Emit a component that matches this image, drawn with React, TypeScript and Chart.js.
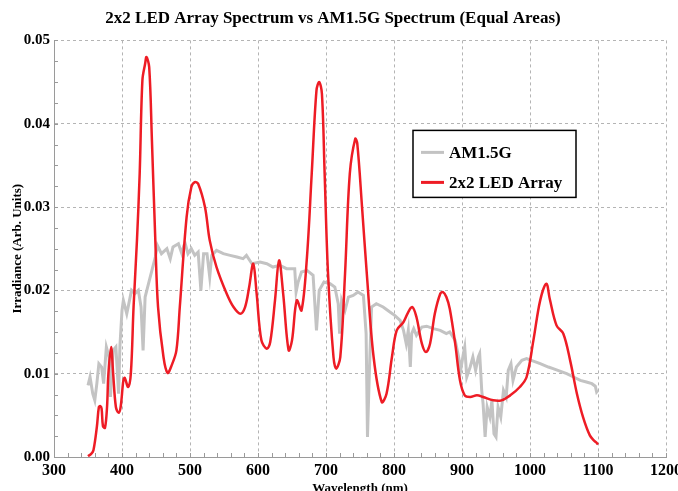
import { useEffect, useRef } from 'react';
import { Chart, registerables } from 'chart.js';

Chart.register(...registerables);

const ledWavelengths = [
  350, 355, 358, 363, 366, 368, 370, 372, 375, 378, 380, 384, 387, 391, 395, 398, 402, 404, 409, 413,
  417, 422, 426, 430, 434, 436, 440, 444, 449, 453, 461, 467, 473, 480, 485, 495, 502, 507, 512, 522,
  529, 539, 554, 564, 574, 581, 587, 593, 598, 605, 613, 618, 625, 631, 637, 645, 650, 657, 664, 672,
  679, 686, 690, 694, 698, 703, 711, 715, 721, 728, 735, 743, 746, 753, 760, 770, 782, 789, 797, 804,
  814, 821, 827, 833, 841, 847, 853, 860, 868, 872, 877, 882, 890, 897, 904, 912, 922, 931, 946, 958,
  971, 985, 995, 1005, 1015, 1024, 1029, 1039, 1049, 1059, 1069, 1078, 1088, 1095, 1098, 1100,
];
const ledValues = [
  0.0001, 0.0004, 0.0008, 0.0036, 0.006, 0.0061, 0.0058, 0.0037, 0.0035, 0.006, 0.01, 0.0132, 0.01, 0.006, 0.0053, 0.006, 0.0092, 0.0095, 0.0084, 0.01,
  0.018, 0.026, 0.034, 0.0452, 0.0472, 0.048, 0.0468, 0.038, 0.026, 0.018, 0.012, 0.0101, 0.011, 0.0128, 0.018, 0.0288, 0.0324, 0.033, 0.0328, 0.03,
  0.026, 0.0228, 0.0196, 0.018, 0.0172, 0.018, 0.0204, 0.0232, 0.0196, 0.014, 0.013, 0.0138, 0.0188, 0.0236, 0.0196, 0.0128, 0.014, 0.0188, 0.0176, 0.024,
  0.034, 0.044, 0.045, 0.0436, 0.034, 0.022, 0.012, 0.0106, 0.012, 0.022, 0.034, 0.0382, 0.0376, 0.03, 0.022, 0.012, 0.0066, 0.0076, 0.012, 0.0152,
  0.0162, 0.0174, 0.018, 0.0168, 0.0136, 0.0126, 0.0136, 0.0172, 0.0196, 0.0198, 0.0192, 0.0178, 0.0136, 0.0092, 0.0074, 0.0072, 0.0074, 0.0072, 0.0068, 0.0068,
  0.0074, 0.0084, 0.0096, 0.014, 0.0188, 0.0208, 0.019, 0.0158, 0.0148, 0.0116, 0.0076, 0.0048, 0.0026, 0.0019, 0.0017, 0.0015,
];

const amWavelengths = [
  350, 353, 357, 360, 363, 366, 370, 373, 377, 381, 383, 387, 391, 395, 397, 400, 402, 407, 411, 414,
  419, 424, 428, 431, 434, 439, 444, 449, 452, 458, 466, 471, 475, 483, 488, 491, 493, 497, 502, 507,
  512, 516, 520, 525, 529, 532, 539, 549, 559, 569, 578, 583, 591, 603, 613, 622, 632, 642, 654, 656,
  659, 664, 672, 681, 686, 690, 697, 706, 713, 718, 720, 723, 728, 733, 740, 747, 755, 759, 761, 764,
  767, 774, 784, 794, 801, 809, 814, 818, 821, 824, 826, 829, 833, 841, 848, 858, 868, 877, 882, 890,
  895, 898, 902, 904, 907, 912, 916, 920, 924, 926, 929, 931, 934, 937, 941, 944, 947, 950, 953, 957,
  961, 965, 968, 972, 975, 980, 988, 995, 1005, 1015, 1027, 1034, 1044, 1054, 1064, 1074, 1083, 1091, 1096, 1098,
  1100,
];
const amValues = [
  0.0086, 0.0096, 0.0076, 0.0068, 0.0088, 0.0112, 0.0108, 0.0088, 0.0132, 0.012, 0.0072, 0.0128, 0.0132, 0.0076, 0.0134, 0.0176, 0.0188, 0.0172, 0.0188, 0.02,
  0.0196, 0.02, 0.018, 0.0128, 0.0192, 0.0208, 0.0224, 0.024, 0.0254, 0.0244, 0.025, 0.0238, 0.0252, 0.0256, 0.0244, 0.0254, 0.0256, 0.0244, 0.025, 0.0242,
  0.0246, 0.02, 0.0244, 0.0244, 0.0216, 0.0242, 0.0248, 0.0244, 0.0242, 0.024, 0.0238, 0.0242, 0.0232, 0.0234, 0.0232, 0.0228, 0.023, 0.0226, 0.0226, 0.0198,
  0.021, 0.0222, 0.0224, 0.0218, 0.0152, 0.02, 0.021, 0.0208, 0.0204, 0.0184, 0.0148, 0.0188, 0.0176, 0.0192, 0.0194, 0.0198, 0.0194, 0.0148, 0.0024, 0.0108,
  0.018, 0.0184, 0.018, 0.0174, 0.017, 0.0164, 0.0152, 0.0136, 0.0152, 0.0108, 0.0148, 0.0154, 0.0146, 0.0156, 0.0157, 0.0154, 0.0152, 0.0148, 0.015, 0.014,
  0.012, 0.0104, 0.0124, 0.0132, 0.0096, 0.0108, 0.012, 0.0104, 0.012, 0.0124, 0.008, 0.0064, 0.0024, 0.006, 0.0048, 0.0068, 0.0028, 0.0024, 0.006, 0.0048,
  0.008, 0.0072, 0.0104, 0.0112, 0.0092, 0.0108, 0.0116, 0.0118, 0.0115, 0.0112, 0.0108, 0.0106, 0.0103, 0.01, 0.0096, 0.0092, 0.009, 0.0088, 0.0085, 0.0078,
  0.008,
];

const seriesLabels = ['AM1.5G', '2x2 LED Array'];
const titleText = '2x2 LED Array Spectrum vs AM1.5G Spectrum (Equal Areas)';
const xTitle = 'Wavelength (nm)';
const yTitle = 'Irradiance (Arb. Units)';
const xMin = 300;
const xMax = 1200;
const xMajorStep = 100;
const xMinorStep = 20;
const yMin = 0;
const yMax = 0.05;
const yMajorStep = 0.01;
const yMinorStep = 0.0025;

const FONT = '"Liberation Serif", "Times New Roman", serif';
const GRAY = '#c3c3c3';
const RED = '#ee1c25';

const minorTicksPlugin = {
  id: 'minorTicks',
  beforeDatasetsDraw(chart: any) {
    const { ctx, chartArea } = chart;
    const xs = chart.scales.x;
    const ys = chart.scales.y;
    ctx.save();
    ctx.strokeStyle = '#9a9a9a';
    ctx.lineWidth = 1;
    ctx.beginPath();
    for (let v = xMin; v <= xMax + 1e-9; v += xMinorStep) {
      const px = Math.round(xs.getPixelForValue(v)) + 0.5;
      ctx.moveTo(px, chartArea.bottom);
      ctx.lineTo(px, chartArea.bottom - 4);
    }
    const n = Math.round((yMax - yMin) / yMinorStep);
    for (let i = 0; i <= n; i++) {
      const py = Math.round(ys.getPixelForValue(yMin + i * yMinorStep)) + 0.5;
      ctx.moveTo(chartArea.left, py);
      ctx.lineTo(chartArea.left + 4, py);
    }
    ctx.stroke();
    ctx.restore();
  },
};

const boxLegendPlugin = {
  id: 'boxLegend',
  afterDraw(chart: any) {
    const { ctx, chartArea } = chart;
    const left = chartArea.left + 359;
    const top = chartArea.top + 90;
    const w = 163;
    const h = 67;
    ctx.save();
    ctx.fillStyle = '#ffffff';
    ctx.fillRect(left, top, w, h);
    ctx.strokeStyle = '#000000';
    ctx.lineWidth = 1.5;
    ctx.strokeRect(left, top, w, h);
    const colors = [GRAY, RED];
    ctx.font = 'bold 17px ' + FONT;
    ctx.textBaseline = 'middle';
    ctx.textAlign = 'left';
    for (let i = 0; i < seriesLabels.length; i++) {
      const cy = top + 22 + i * 30;
      ctx.strokeStyle = colors[i];
      ctx.lineWidth = 3;
      ctx.beginPath();
      ctx.moveTo(left + 8, cy);
      ctx.lineTo(left + 31, cy);
      ctx.stroke();
      ctx.fillStyle = '#000000';
      ctx.fillText(seriesLabels[i], left + 36, cy + 1);
    }
    ctx.restore();
  },
};

export default function App() {
  const canvasRef = useRef<HTMLCanvasElement | null>(null);

  useEffect(() => {
    if (!canvasRef.current) return;
    const toPoints = (xs: number[], ys: number[]) => xs.map((x, i) => ({ x, y: ys[i] }));
    const chart = new Chart(canvasRef.current, {
      type: 'line',
      data: {
        datasets: [
          {
            label: seriesLabels[0],
            data: toPoints(amWavelengths, amValues),
            borderColor: GRAY,
            borderWidth: 3,
            pointRadius: 0,
            tension: 0,
            order: 2,
          },
          {
            label: seriesLabels[1],
            data: toPoints(ledWavelengths, ledValues),
            borderColor: RED,
            borderWidth: 2.5,
            pointRadius: 0,
            tension: 0.35,
            order: 1,
          },
        ],
      },
      plugins: [minorTicksPlugin, boxLegendPlugin],
      options: {
        animation: false,
        responsive: true,
        maintainAspectRatio: false,
        layout: { padding: { left: 0, right: 24, top: 0, bottom: 0 } },
        plugins: {
          legend: { display: false },
          tooltip: { enabled: false },
          title: {
            display: true,
            text: titleText,
            color: '#000',
            font: { family: FONT, size: 17, weight: 'bold' },
            padding: { top: 8, bottom: 12 },
          },
        },
        scales: {
          x: {
            type: 'linear',
            min: xMin,
            max: xMax,
            afterFit: (s: any) => { s.height = 40; },
            ticks: {
              stepSize: xMajorStep,
              color: '#000',
              padding: 4,
              maxRotation: 0,
              font: { family: FONT, size: 16, weight: 'bold' },
              callback: (v: any) => String(Math.round(Number(v))),
            },
            grid: { color: '#b4b4b4', drawTicks: false, lineWidth: 1 },
            border: { display: true, color: '#9a9a9a', width: 1, dash: [3, 3] },
            title: {
              display: true,
              text: xTitle,
              color: '#000',
              font: { family: FONT, size: 13, weight: 'bold' },
              padding: { top: 0, bottom: 1 },
            },
          },
          y: {
            type: 'linear',
            min: yMin,
            max: yMax,
            afterFit: (s: any) => { s.width = 54; },
            ticks: {
              stepSize: yMajorStep,
              color: '#000',
              padding: 4,
              font: { family: FONT, size: 15, weight: 'bold' },
              callback: (v: any) => Number(v).toFixed(2),
            },
            grid: { color: '#b4b4b4', drawTicks: false, lineWidth: 1 },
            border: { display: true, color: '#9a9a9a', width: 1, dash: [3, 3] },
            title: {
              display: true,
              text: yTitle,
              color: '#000',
              font: { family: FONT, size: 13, weight: 'bold' },
              padding: { top: 10, bottom: 0 },
            },
          },
        },
      },
    });
    return () => chart.destroy();
  }, []);

  return (
    <div style={{ position: 'absolute', left: 0, top: 0, width: 678, height: 491, overflow: 'hidden', background: '#fff' }}>
      <div style={{ position: 'relative', width: 690, height: 497 }}>
        <canvas ref={canvasRef} />
      </div>
    </div>
  );
}
